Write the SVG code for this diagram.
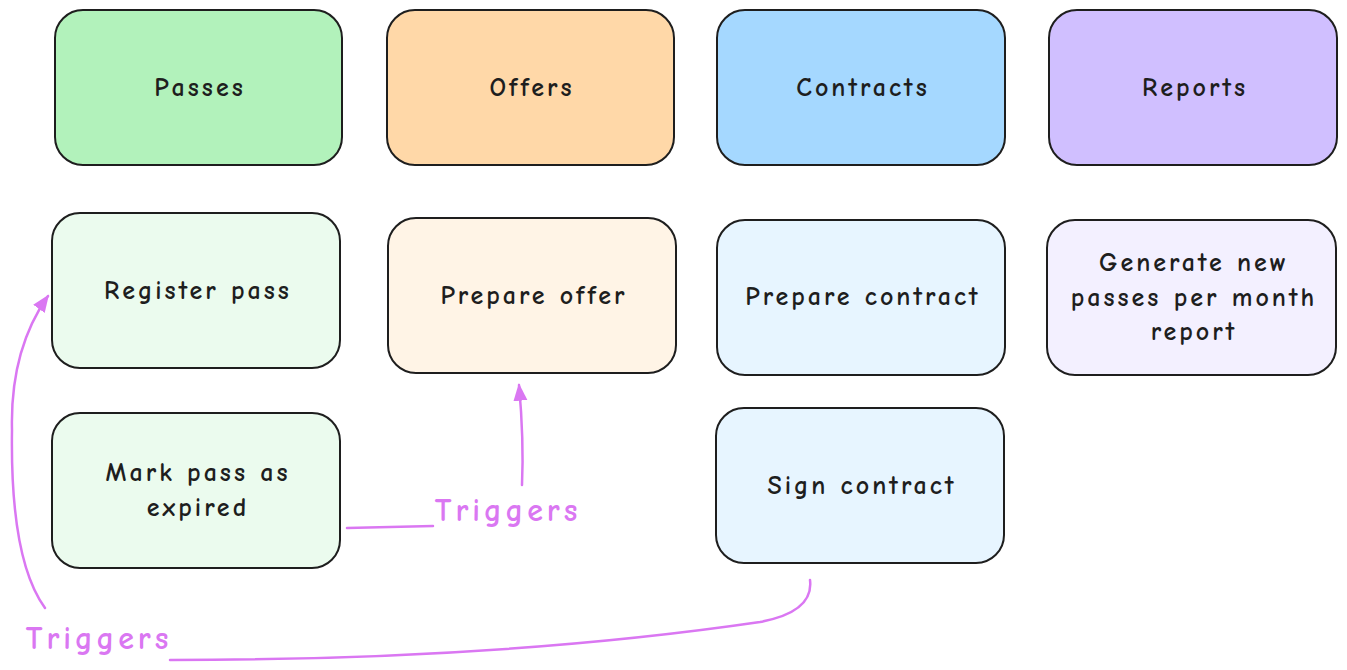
<svg xmlns="http://www.w3.org/2000/svg" width="1347" height="670" viewBox="0 0 1347 670">
<defs>
<style>
.box{stroke:#1e1e1e;stroke-width:2}
.t{font-family:"Comic Neue","Liberation Sans",sans-serif;font-size:26px;font-weight:bold;letter-spacing:3px;fill:#1e1e1e;text-anchor:middle;dominant-baseline:central}
.c{fill:none;stroke:#da77f2;stroke-width:2.5;stroke-linecap:round}
.lbl{font-family:"Comic Neue","Liberation Sans",sans-serif;font-size:32px;font-weight:bold;letter-spacing:4px;fill:#da77f2;text-anchor:middle;dominant-baseline:central}
</style>
<marker id="ah" viewBox="0 0 10 10" refX="9" refY="5" markerWidth="7" markerHeight="7" orient="auto" markerUnits="strokeWidth">
<path d="M0,1 L10,5 L0,9 Z" fill="#da77f2"/>
</marker>
</defs>
<rect width="1347" height="670" fill="#ffffff"/>
<g id="passes"><rect class="box" x="55" y="10" width="287" height="155" rx="28" fill="#b2f2bb"/><text class="t" x="200" y="88">Passes</text></g>
<g id="offers"><rect class="box" x="387" y="10" width="287" height="155" rx="28" fill="#ffd8a8"/><text class="t" x="532" y="88">Offers</text></g>
<g id="contracts"><rect class="box" x="717" y="10" width="288" height="155" rx="28" fill="#a5d8ff"/><text class="t" x="863" y="88">Contracts</text></g>
<g id="reports"><rect class="box" x="1049" y="10" width="288" height="155" rx="28" fill="#d0bfff"/><text class="t" x="1195" y="88">Reports</text></g>
<g id="register-pass"><rect class="box" x="52" y="213" width="288" height="155" rx="28" fill="#ebfbee"/><text class="t" x="198" y="291">Register pass</text></g>
<g id="prepare-offer"><rect class="box" x="388" y="218" width="288" height="155" rx="28" fill="#fff4e6"/><text class="t" x="534" y="296">Prepare offer</text></g>
<g id="prepare-contract"><rect class="box" x="717" y="220" width="288" height="155" rx="28" fill="#e7f5ff"/><text class="t" x="863" y="297">Prepare contract</text></g>
<g id="generate-report"><rect class="box" x="1047" y="220" width="289" height="155" rx="28" fill="#f3f0ff"/><text class="t" x="1194" y="263">Generate new</text><text class="t" x="1194" y="298">passes per month</text><text class="t" x="1194" y="332">report</text></g>
<g id="mark-expired"><rect class="box" x="52" y="413" width="288" height="155" rx="28" fill="#ebfbee"/><text class="t" x="198" y="473">Mark pass as</text><text class="t" x="198" y="508">expired</text></g>
<g id="sign-contract"><rect class="box" x="716" y="408" width="288" height="155" rx="28" fill="#e7f5ff"/><text class="t" x="862" y="486">Sign contract</text></g>
<g id="connectors">
<path class="c" d="M347,528 L433,526"/>
<path class="c" d="M522,485 Q524,440 519,385" marker-end="url(#ah)"/>
<text class="lbl" x="508" y="510">Triggers</text>
<path class="c" d="M810,580 Q814,612 760,622 Q500,660 170,660"/>
<path class="c" d="M45,608 Q10,560 12,430 Q10,350 48,296" marker-end="url(#ah)"/>
<text class="lbl" x="99" y="638">Triggers</text>
</g>
</svg>
